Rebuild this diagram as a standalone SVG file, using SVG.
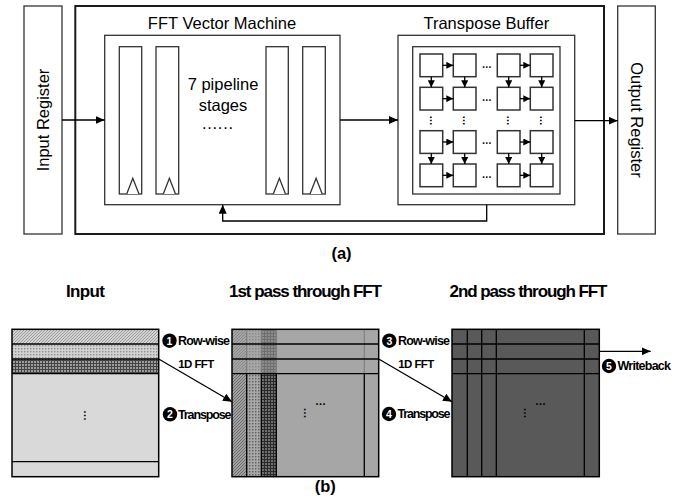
<svg xmlns="http://www.w3.org/2000/svg" width="683" height="501" viewBox="0 0 683 501">
  <style>
    text { font-family: "Liberation Sans", Arial, sans-serif; fill: #000; }
    .lbl { font-size: 16.5px; }
    .ttl { font-size: 17px; font-weight: bold; }
    .tag { font-size: 12.5px; font-weight: bold; }
    .sub { font-size: 11.5px; font-weight: bold; }
    .num { font-size: 10.5px; font-weight: bold; fill: #fff; }
    .box { fill: #fff; stroke: #333; stroke-width: 1.3; }
    .cell { fill: #fff; stroke: #333; stroke-width: 1.5; }
    .wire { fill: none; stroke: #000; stroke-width: 1.3; }
    .mline { stroke: #000; stroke-width: 1.3; }
    .fade { stroke: #7a7a7a; stroke-width: 1; }
  </style>
  <defs>
    <marker id="ah" markerWidth="9" markerHeight="8" refX="9" refY="4" orient="auto" markerUnits="userSpaceOnUse">
      <path d="M0,0L9,4L0,8z" fill="#000"/>
    </marker>
    <marker id="ahs" markerWidth="7" markerHeight="7" refX="7" refY="3.5" orient="auto" markerUnits="userSpaceOnUse">
      <path d="M0,0L7,3.5L0,7z" fill="#000"/>
    </marker>
    <!-- light fills for the input rows -->
    <pattern id="hatchL" width="3" height="3" patternUnits="userSpaceOnUse">
      <rect width="3" height="3" fill="#d4d4d4"/>
      <path d="M-1,1L1,-1M0,3L3,0M2,4L4,2" stroke="#8a8a8a" stroke-width="0.8"/>
    </pattern>
    <pattern id="dotsL" width="3" height="3" patternUnits="userSpaceOnUse">
      <rect width="3" height="3" fill="#d2d2d2"/>
      <rect x="0" y="0" width="1.4" height="1.4" fill="#8f8f8f"/>
    </pattern>
    <pattern id="gridL" width="3" height="3" patternUnits="userSpaceOnUse">
      <rect width="3" height="3" fill="#9c9c9c"/>
      <path d="M0.5,0V3M0,0.5H3" stroke="#444" stroke-width="1"/>
    </pattern>
    <!-- darker fills for the columns after the first pass -->
    <pattern id="hatchD" width="3" height="3" patternUnits="userSpaceOnUse">
      <rect width="3" height="3" fill="#a2a2a2"/>
      <path d="M-1,1L1,-1M0,3L3,0M2,4L4,2" stroke="#5a5a5a" stroke-width="0.8"/>
    </pattern>
    <pattern id="dotsD" width="3" height="3" patternUnits="userSpaceOnUse">
      <rect width="3" height="3" fill="#a8a8a8"/>
      <rect x="0" y="0" width="1.4" height="1.4" fill="#5e5e5e"/>
    </pattern>
    <pattern id="gridD" width="3" height="3" patternUnits="userSpaceOnUse">
      <rect width="3" height="3" fill="#6e6e6e"/>
      <path d="M0.5,0V3M0,0.5H3" stroke="#2a2a2a" stroke-width="1"/>
    </pattern>
  </defs>

  <!-- ===== (a) hardware block diagram ===== -->
  <g id="input-register">
    <rect x="24" y="6" width="38" height="228" class="box"/>
    <text class="lbl" transform="translate(49,120) rotate(-90)" text-anchor="middle">Input Register</text>
  </g>

  <g id="fft-core">
    <rect x="75.3" y="6" width="528.7" height="228" fill="#fff" stroke="#1a1a1a" stroke-width="2"/>
  </g>

  <g id="fft-vector-machine">
    <text class="lbl" x="222" y="29" text-anchor="middle">FFT Vector Machine</text>
    <rect x="104.7" y="35.3" width="235.3" height="169.4" class="box"/>
    <g fill="#fff" stroke="#333" stroke-width="1.3">
      <rect x="119.3" y="46.7" width="22.4" height="147.3"/>
      <rect x="156" y="46.7" width="22.7" height="147.3"/>
      <rect x="266" y="46.7" width="22.3" height="147.3"/>
      <rect x="302.7" y="46.7" width="22.6" height="147.3"/>
      <path d="M126.7,194L132.8,178.3L139,194M163.3,194L169.4,178.3L175.5,194M273.3,194L279.4,178.3L285.5,194M310,194L316.1,178.3L322.2,194"/>
    </g>
    <text class="lbl" x="223" y="90" text-anchor="middle">7 pipeline</text>
    <text class="lbl" x="223" y="110.5" text-anchor="middle">stages</text>
    <text class="lbl" x="217.5" y="129" text-anchor="middle" textLength="31" font-size="14">......</text>
  </g>

  <g id="transpose-buffer">
    <text class="lbl" x="486.3" y="29" text-anchor="middle">Transpose Buffer</text>
    <rect x="398" y="35.3" width="176.7" height="169.4" class="box"/>
    <rect x="412.7" y="46.7" width="147.3" height="147.3" class="box"/>
    <g class="cells">
      <rect class="cell" x="420" y="54" width="22.7" height="22.7"/>
      <rect class="cell" x="453.3" y="54" width="22.7" height="22.7"/>
      <rect class="cell" x="497.3" y="54" width="22.7" height="22.7"/>
      <rect class="cell" x="530.3" y="54" width="22.7" height="22.7"/>
      <rect class="cell" x="420" y="87.3" width="22.7" height="22.7"/>
      <rect class="cell" x="453.3" y="87.3" width="22.7" height="22.7"/>
      <rect class="cell" x="497.3" y="87.3" width="22.7" height="22.7"/>
      <rect class="cell" x="530.3" y="87.3" width="22.7" height="22.7"/>
      <rect class="cell" x="420" y="130.7" width="22.7" height="22.7"/>
      <rect class="cell" x="453.3" y="130.7" width="22.7" height="22.7"/>
      <rect class="cell" x="497.3" y="130.7" width="22.7" height="22.7"/>
      <rect class="cell" x="530.3" y="130.7" width="22.7" height="22.7"/>
      <rect class="cell" x="420" y="164" width="22.7" height="22.7"/>
      <rect class="cell" x="453.3" y="164" width="22.7" height="22.7"/>
      <rect class="cell" x="497.3" y="164" width="22.7" height="22.7"/>
      <rect class="cell" x="530.3" y="164" width="22.7" height="22.7"/>
    </g>
    <g class="cell-links" fill="none" stroke="#000" stroke-width="1.3" marker-end="url(#ahs)">
      <!-- shifts along each row -->
      <path d="M442.7,65.3H453.3"/>
      <path d="M520,65.3H530.3"/>
      <path d="M442.7,98.7H453.3"/>
      <path d="M520,98.7H530.3"/>
      <path d="M442.7,142H453.3"/>
      <path d="M520,142H530.3"/>
      <path d="M442.7,175.3H453.3"/>
      <path d="M520,175.3H530.3"/>
      <!-- shifts down each column -->
      <path d="M431.3,76.7V87.3"/>
      <path d="M464.7,76.7V87.3"/>
      <path d="M508.7,76.7V87.3"/>
      <path d="M541.7,76.7V87.3"/>
      <path d="M431.3,153.3V164"/>
      <path d="M464.7,153.3V164"/>
      <path d="M508.7,153.3V164"/>
      <path d="M541.7,153.3V164"/>
    </g>
    <g font-size="10" font-weight="bold" text-anchor="middle">
      <text x="486.7" y="67.5">…</text>
      <text x="486.7" y="101">…</text>
      <text x="486.7" y="144.3">…</text>
      <text x="486.7" y="177.6">…</text>
      <text transform="translate(429.8,120.5) rotate(90)">…</text>
      <text transform="translate(463.2,120.5) rotate(90)">…</text>
      <text transform="translate(507.2,120.5) rotate(90)">…</text>
      <text transform="translate(540.2,120.5) rotate(90)">…</text>
    </g>
  </g>

  <g id="output-register">
    <rect x="617.7" y="6" width="37.6" height="228" class="box"/>
    <text class="lbl" transform="translate(630.5,120) rotate(90)" text-anchor="middle">Output Register</text>
  </g>

  <g id="connectors">
    <path class="wire" d="M62,120H104.7" marker-end="url(#ah)"/>
    <path class="wire" d="M340,120H398" marker-end="url(#ah)"/>
    <path class="wire" d="M574.7,120.7H617.7" marker-end="url(#ah)"/>
    <path class="wire" d="M486.7,204.7V221H222.7V204.7" marker-end="url(#ah)"/>
    <path class="wire" d="M158.7,359L232,401.7" marker-end="url(#ah)"/>
    <path class="wire" d="M378.7,359L452,401.7" marker-end="url(#ah)"/>
    <path class="wire" d="M599.3,351.3H650.7" marker-end="url(#ah)"/>
  </g>

  <text x="341.5" y="259" text-anchor="middle" font-size="16.5" font-weight="bold">(a)</text>

  <!-- ===== (b) two-pass 2D FFT data flow ===== -->
  <text class="ttl" x="85.5" y="297" text-anchor="middle" textLength="39">Input</text>
  <text class="ttl" x="305.5" y="297" text-anchor="middle" textLength="153">1st pass through FFT</text>
  <text class="ttl" x="528.5" y="297" text-anchor="middle" textLength="158">2nd pass through FFT</text>

  <g id="input-matrix">
    <rect x="12" y="329.3" width="146.7" height="147.4" fill="#d9d9d9"/>
    <rect x="12" y="329.3" width="146.7" height="14.7" fill="url(#hatchL)"/>
    <rect x="12" y="344" width="146.7" height="15" fill="url(#dotsL)"/>
    <rect x="12" y="359" width="146.7" height="14.7" fill="url(#gridL)"/>
    <path class="mline" d="M12,344H158.7M12,359H158.7M12,373.7H158.7M12,461.7H158.7"/>
    <rect x="12" y="329.3" width="146.7" height="147.4" fill="none" stroke="#000" stroke-width="1.5"/>
    <text transform="translate(83.5,415.5) rotate(90)" font-size="11" font-weight="bold" text-anchor="middle">…</text>
  </g>

  <g id="first-pass-matrix">
    <rect x="232" y="329.3" width="146.7" height="147.4" fill="#a6a6a6"/>
    <rect x="232" y="329.3" width="14.7" height="147.4" fill="url(#hatchD)"/>
    <rect x="246.7" y="329.3" width="14.6" height="147.4" fill="url(#dotsD)"/>
    <rect x="261.3" y="329.3" width="15" height="147.4" fill="url(#gridD)"/>
    <rect x="232" y="329.3" width="44.3" height="44.4" fill="#a6a6a6" opacity="0.55"/>
    <path class="fade" d="M246.7,329.3V373.7M261.3,329.3V373.7M276.3,329.3V373.7M364.3,329.3V373.7"/>
    <path class="mline" d="M246.7,373.7V476.7M261.3,373.7V476.7M276.3,373.7V476.7M364.3,373.7V476.7"/>
    <path class="mline" d="M232,344H378.7M232,359H378.7M232,373.7H378.7"/>
    <rect x="232" y="329.3" width="146.7" height="147.4" fill="none" stroke="#000" stroke-width="1.5"/>
    <text transform="translate(303.5,413) rotate(90)" font-size="11" font-weight="bold" text-anchor="middle">…</text>
    <text x="320.5" y="405" font-size="11" font-weight="bold" text-anchor="middle">…</text>
  </g>

  <g id="second-pass-matrix">
    <rect x="452" y="329.3" width="147.3" height="147.4" fill="#595959"/>
    <path class="mline" d="M467.3,329.3V476.7M481.7,329.3V476.7M496.3,329.3V476.7M584.3,329.3V476.7"/>
    <path class="mline" d="M452,344H599.3M452,359H599.3M452,373.7H599.3"/>
    <rect x="452" y="329.3" width="147.3" height="147.4" fill="none" stroke="#000" stroke-width="1.5"/>
    <text transform="translate(523.5,413) rotate(90)" font-size="11" font-weight="bold" text-anchor="middle">…</text>
    <text x="540.5" y="405" font-size="11" font-weight="bold" text-anchor="middle">…</text>
  </g>

  <g id="step-labels">
    <circle cx="169.5" cy="340.7" r="7.2" fill="#000"/>
    <text class="num" x="169.5" y="344.5" text-anchor="middle">1</text>
    <text class="tag" x="178" y="345" textLength="52">Row-wise</text>
    <text class="sub" x="178.3" y="367.5" textLength="36">1D FFT</text>

    <circle cx="170" cy="414.3" r="7.2" fill="#000"/>
    <text class="num" x="170" y="418.1" text-anchor="middle">2</text>
    <text class="tag" x="178" y="418.7" textLength="53.5">Transpose</text>

    <circle cx="389.3" cy="340.7" r="7.2" fill="#000"/>
    <text class="num" x="389.3" y="344.5" text-anchor="middle">3</text>
    <text class="tag" x="398" y="345" textLength="52">Row-wise</text>
    <text class="sub" x="398.3" y="367.5" textLength="36">1D FFT</text>

    <circle cx="389" cy="414" r="7.2" fill="#000"/>
    <text class="num" x="389" y="417.8" text-anchor="middle">4</text>
    <text class="tag" x="397.5" y="418.3" textLength="53">Transpose</text>

    <circle cx="609" cy="366" r="7.2" fill="#000"/>
    <text class="num" x="609" y="369.8" text-anchor="middle">5</text>
    <text class="tag" x="617.5" y="370.3" textLength="53.5">Writeback</text>
  </g>

  <text x="325.3" y="492" text-anchor="middle" font-size="16.5" font-weight="bold">(b)</text>
</svg>
